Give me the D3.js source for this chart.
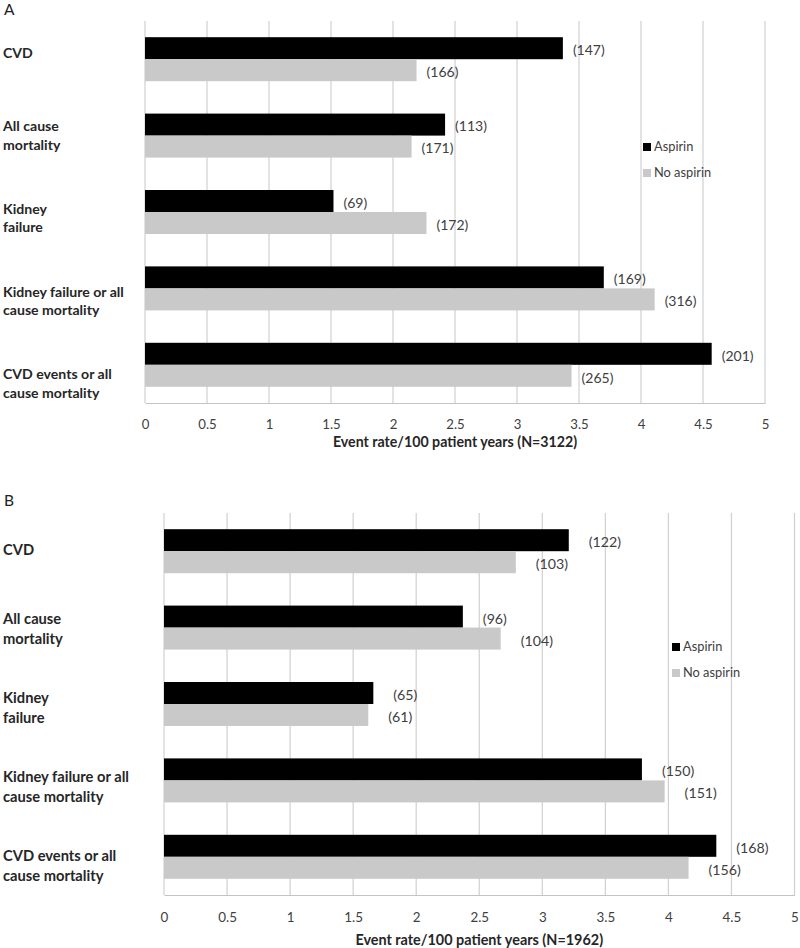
<!DOCTYPE html>
<html>
<head>
<meta charset="utf-8">
<script src="https://cdn.jsdelivr.net/npm/d3@7"></script>
<style>
  html, body { margin: 0; padding: 0; background: #fff; }
  svg { display: block; font-family: Lato, "Open Sans", sans-serif; }
</style>
</head>
<body>
<svg id="chart" width="800" height="948"></svg>
<script>
// ---------- data ----------
const categories = ["CVD", "All cause mortality", "Kidney failure",
  "Kidney failure or all cause mortality", "CVD events or all cause mortality"];
const categoryLines = [["CVD"], ["All cause", "mortality"], ["Kidney", "failure"],
  ["Kidney failure or all", "cause mortality"], ["CVD events or all", "cause mortality"]];
const seriesNames = ["Aspirin", "No aspirin"];
const tickValues = [0, 0.5, 1, 1.5, 2, 2.5, 3, 3.5, 4, 4.5, 5];
const tickLabels = ["0", "0.5", "1", "1.5", "2", "2.5", "3", "3.5", "4", "4.5", "5"];

// Panel A (N=3122)
const aspirinA = [3.37, 2.42, 1.52, 3.70, 4.57];
const noAspirinA = [2.19, 2.15, 2.27, 4.11, 3.44];
const aspirinCountsA = [147, 113, 69, 169, 201];
const noAspirinCountsA = [166, 171, 172, 316, 265];

// Panel B (N=1962)
const aspirinB = [3.21, 2.37, 1.66, 3.79, 4.38];
const noAspirinB = [2.79, 2.67, 1.62, 3.97, 4.16];
const aspirinCountsB = [122, 96, 65, 150, 168];
const noAspirinCountsB = [103, 104, 61, 151, 156];

const panelNames = ["A", "B"];
const axisTitles = ["Event rate/100 patient years (N=3122)", "Event rate/100 patient years (N=1962)"];

// ---------- layout ----------
const colors = { "Aspirin": "#000000", "No aspirin": "#c9c9c9" };
const layouts = [
  { left: 145, right: 765, top: 21, bottom: 403, tickY: 424, titleY: 442,
    tagX: 4, tagY: 15, legX: 643, legY: 143, labelTop: 53, labelBottom: 383.5,
    labelDx: 10, catFont: 14.1, lineH: 18.5, axFont: 13.2, titleFont: 14.2, valFont: 14 },
  { left: 164, right: 794.5, top: 513, bottom: 895, tickY: 917, titleY: 940,
    tagX: 4, tagY: 506, legX: 672, legY: 643, labelTop: 550, labelBottom: 866,
    labelDx: 20, catFont: 14.7, lineH: 19.5, axFont: 13.4, titleFont: 14.4, valFont: 14.2 }
];
const panelData = [
  { asp: aspirinA, no: noAspirinA, aspN: aspirinCountsA, noN: noAspirinCountsA },
  { asp: aspirinB, no: noAspirinB, aspN: aspirinCountsB, noN: noAspirinCountsB }
];

const svg = d3.select("#chart");
const textColor = "#404040";

panelNames.forEach((name, pi) => {
  const L = layouts[pi];
  const D = panelData[pi];
  const g = svg.append("g");

  const x = d3.scaleLinear().domain([0, 5]).range([L.left, L.right]);
  const y = d3.scaleBand().domain(categories).range([L.top, L.bottom])
    .paddingInner(0.424).paddingOuter(0.212);
  const ySub = d3.scaleBand().domain(seriesNames).range([0, y.bandwidth()]).padding(0);
  const yLab = d3.scalePoint().domain(categories).range([L.labelTop, L.labelBottom]);

  // panel tag
  g.append("text").attr("x", L.tagX).attr("y", L.tagY)
    .attr("font-size", 15.5).attr("fill", "#222").text(name);

  // gridlines
  g.append("g").selectAll("line").data(tickValues).join("line")
    .attr("x1", d => x(d)).attr("x2", d => x(d))
    .attr("y1", L.top).attr("y2", L.bottom)
    .attr("stroke", "#d0d0d0").attr("stroke-width", 1.2);

  // bottom axis
  const axis = d3.axisBottom(x).tickValues(tickValues)
    .tickFormat((d, i) => tickLabels[i]).tickSize(0).tickPadding(0);
  const ax = g.append("g").attr("transform", `translate(0,${L.bottom})`).call(axis);
  ax.select(".domain").attr("stroke", "#c4c4c4").attr("stroke-width", 1.2);
  ax.selectAll("text").attr("y", L.tickY - L.bottom).attr("dy", "0.35em")
    .attr("font-family", "Lato").attr("font-size", L.axFont).attr("fill", textColor);

  // axis title
  g.append("text").attr("x", (L.left + L.right) / 2).attr("y", L.titleY)
    .attr("text-anchor", "middle").attr("dy", "0.35em")
    .attr("font-weight", "bold").attr("font-size", L.titleFont).attr("fill", "#262626")
    .text(axisTitles[pi]);

  // bars
  const rows = categories.map((c, i) => ({
    cat: c,
    vals: [
      { s: "Aspirin", v: D.asp[i], n: D.aspN[i] },
      { s: "No aspirin", v: D.no[i], n: D.noN[i] }
    ]
  }));
  const grp = g.append("g").selectAll("g").data(rows).join("g")
    .attr("transform", d => `translate(0,${y(d.cat)})`);
  grp.selectAll("rect").data(d => d.vals).join("rect")
    .attr("x", x(0)).attr("y", d => ySub(d.s))
    .attr("width", d => x(d.v) - x(0)).attr("height", ySub.bandwidth())
    .attr("fill", d => colors[d.s]);
  grp.selectAll("text").data(d => d.vals).join("text")
    .attr("x", d => x(d.v) + L.labelDx)
    .attr("y", d => ySub(d.s) + ySub.bandwidth() / 2 + 2)
    .attr("dy", "0.35em").attr("font-size", L.valFont).attr("fill", textColor)
    .text(d => `(${d.n})`);

  // category labels
  const cl = g.append("g").selectAll("text").data(categories).join("text")
    .attr("x", 3)
    .attr("font-weight", "bold").attr("font-size", L.catFont).attr("fill", "#262626");
  cl.each(function (c, i) {
    const lines = categoryLines[i];
    const n = lines.length;
    d3.select(this).selectAll("tspan").data(lines).join("tspan")
      .attr("x", 3)
      .attr("y", (t, k) => yLab(c) + (k - (n - 1) / 2) * L.lineH)
      .attr("dy", "0.35em")
      .text(t => t);
  });

  // legend
  const leg = g.append("g").attr("transform", `translate(${L.legX},${L.legY})`);
  seriesNames.forEach((s, k) => {
    leg.append("rect").attr("x", 0).attr("y", k * 26).attr("width", 8).attr("height", 8)
      .attr("fill", colors[s]);
    leg.append("text").attr("x", 11).attr("y", k * 26 + 4).attr("dy", "0.35em")
      .attr("font-size", 12.8).attr("fill", textColor).text(s);
  });
});
</script>
</body>
</html>
